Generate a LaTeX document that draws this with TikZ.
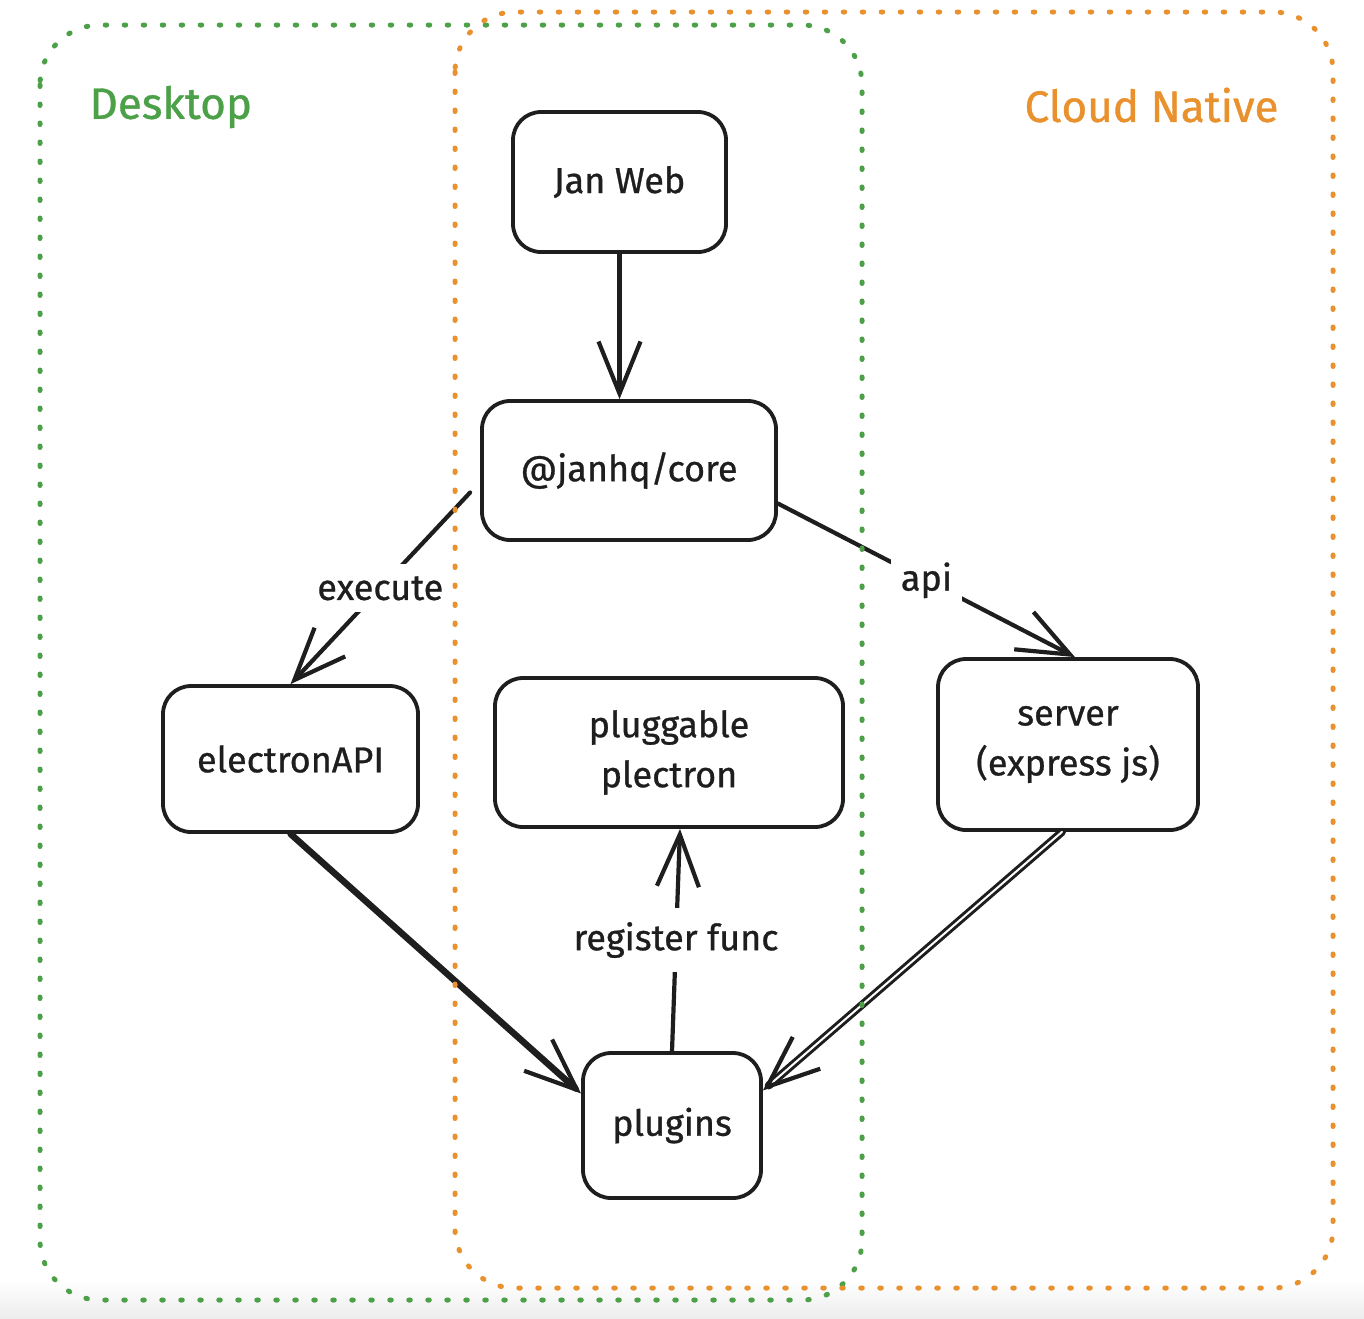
\documentclass[tikz,border=0pt]{standalone}
\usepackage{fontspec}
\setmainfont{Fira Sans}[FakeBold=0.8]
\usetikzlibrary{arrows.meta,calc}
\definecolor{ink}{RGB}{30,30,30}
\definecolor{dgreen}{RGB}{76,160,72}
\definecolor{dorange}{RGB}{232,145,45}
\tikzset{
  box/.style={draw=ink, line width=3.8pt, rounded corners=28pt, align=center,
    font=\fontsize{36}{50}\selectfont, text=ink, inner sep=0pt},
  conn/.style={draw=ink, line width=4.2pt, line cap=round,
    -{Straight Barb[length=52pt,width=42pt,line width=4.2pt]}},
  elabel/.style={fill=white, text=ink, inner sep=12pt, font=\fontsize{36}{40}\selectfont},
  region/.style={line width=5pt, line cap=round, dash pattern=on 1.5pt off 17.5pt, rounded corners=60pt},
  title/.style={font=\fontsize{44}{50}\selectfont}
}
\begin{document}
\begin{tikzpicture}[x=1pt,y=-1pt]
\useasboundingbox (0,0) rectangle (1364,1318);
\shade[top color=white, bottom color=black!7] (0,1280) rectangle (1364,1318);

% boxes
\node[box, minimum width=213pt, minimum height=140pt] (jan) at (619.5,182) {Jan Web};
\node[box, minimum width=294pt, minimum height=139pt] (core) at (629,470.5) {@janhq/core};
\node[box, minimum width=255pt, minimum height=146pt] (eapi) at (290.5,759) {electronAPI};
\node[box, minimum width=348pt, minimum height=149pt] (pl) at (669,752.5) {pluggable\\plectron};
\node[box, minimum width=260pt, minimum height=171pt] (srv) at (1068,744.5) {server\\(express js)};
\node[box, minimum width=178pt, minimum height=145pt] (plug) at (672,1125.5) {plugins};

% connectors
\draw[conn] (jan.south) -- (jan.south |- core.north);
\draw[conn] ([xshift=-10pt,yshift=-22pt]core.west) -- node[elabel, midway] {execute} (eapi.north);
\draw[conn] ([yshift=-33pt]core.east) -- node[elabel, midway, inner sep=10pt] {api} ([xshift=7pt]srv.north);
\draw[conn, line width=6.5pt] (eapi.south) -- ([yshift=32pt]plug.west);
\draw[conn, double=white, double distance=2pt, line width=3pt] ([xshift=-6pt]srv.south) -- ([yshift=35pt]plug.east);
\draw[conn] (plug.north) -- node[elabel, midway, inner sep=14pt] {register func} ([xshift=11pt]pl.south);

% regions
\draw[region, dgreen] (40,25) rectangle (862,1300);
\draw[region, dorange] (455,12) rectangle (1333,1288);
\node[title, text=dgreen, anchor=west] (desk) at (86,107) {Desktop};
\node[title, text=dorange, anchor=east] (cloud) at (1282,105) {Cloud Native};
\end{tikzpicture}
\end{document}
